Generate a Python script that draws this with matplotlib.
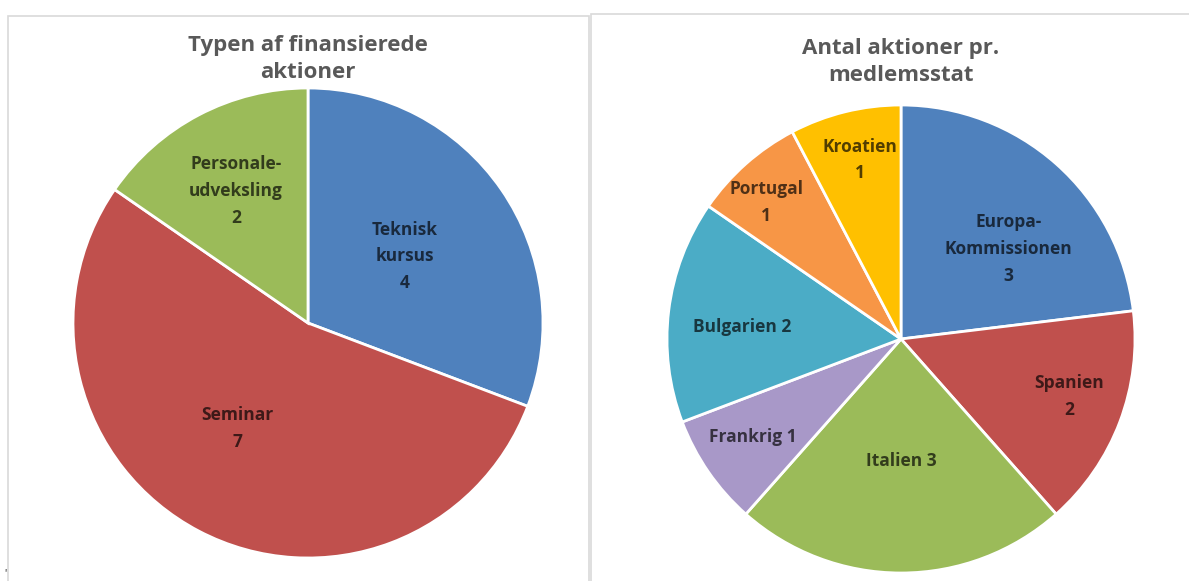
import matplotlib.pyplot as plt
from matplotlib.patches import Rectangle
import numpy as np

plt.rcParams['font.family'] = ['Open Sans', 'DejaVu Sans']

# ---------------- DATA ----------------
type_labels = ["Teknisk\nkursus\n4", "Seminar\n7", "Personale-\nudveksling\n2"]
type_values = [4, 7, 2]
type_colors = ["#4F81BD", "#C0504D", "#9BBB59"]

state_labels = ["Europa-\nKommissionen\n3", "Spanien\n2", "Italien 3", "Frankrig 1",
                "Bulgarien 2", "Portugal\n1", "Kroatien\n1"]
state_values = [3, 2, 3, 1, 2, 1, 1]
state_colors = ["#4F81BD", "#C0504D", "#9BBB59", "#A898C8", "#4BACC6", "#F79646", "#FFC000"]

# label placement (fraction of radius, angle nudge in degrees)
type_lab_r = [0.50, 0.54, 0.64]
type_lab_nudge = [0, -6, 1]
state_lab_r = [0.60, 0.76, 0.52, 0.76, 0.68, 0.82, 0.785]
state_lab_nudge = [-8.5, 2, 0, -1, 2.6, 3, -1]

W, H = 1189, 581
fig = plt.figure(figsize=(W / 100, H / 100), dpi=100)

# panel borders
for x0, y0, x1 in [(8, 16, 589), (591, 14, 1195)]:
    fig.patches.append(Rectangle((x0 / W, -0.1), (x1 - x0) / W, 1.1 - y0 / H,
                                 transform=fig.transFigure, fill=False,
                                 edgecolor="#D9D9D9", linewidth=1.2))


def draw_pie(cx, cy, r, values, colors, labels, lab_r, nudge, title, title_y):
    ax = fig.add_axes([(cx - r) / W, (H - cy - r) / H, 2 * r / W, 2 * r / H])
    wedges, _ = ax.pie(values, colors=colors, startangle=90, counterclock=False,
                       radius=1, wedgeprops=dict(edgecolor="white", linewidth=2))
    ax.set_xlim(-1, 1)
    ax.set_ylim(-1, 1)
    ax.set_aspect("equal")
    ax.axis("off")
    for w, lab, rr, dn in zip(wedges, labels, lab_r, nudge):
        ang = np.deg2rad((w.theta1 + w.theta2) / 2 + dn)
        ax.text(rr * np.cos(ang), rr * np.sin(ang), lab, ha="center", va="center",
                fontsize=12.5, fontweight="bold", color="black", alpha=0.68,
                linespacing=1.62)
    fig.text(cx / W, 1 - title_y / H, title, ha="center", va="center",
             fontsize=16, fontweight="bold", color="#595959", linespacing=1.38)


draw_pie(308, 323, 235, type_values, type_colors, type_labels,
         type_lab_r, type_lab_nudge, "Typen af finansierede\naktioner", 59)
draw_pie(901, 339, 234, state_values, state_colors, state_labels,
         state_lab_r, state_lab_nudge, "Antal aktioner pr.\nmedlemsstat", 62)

fig.text(4 / W, 1 - 574 / H, "'", fontsize=7, color="black", ha="left", va="center")

plt.savefig("out.png", dpi=100)
plt.close()
